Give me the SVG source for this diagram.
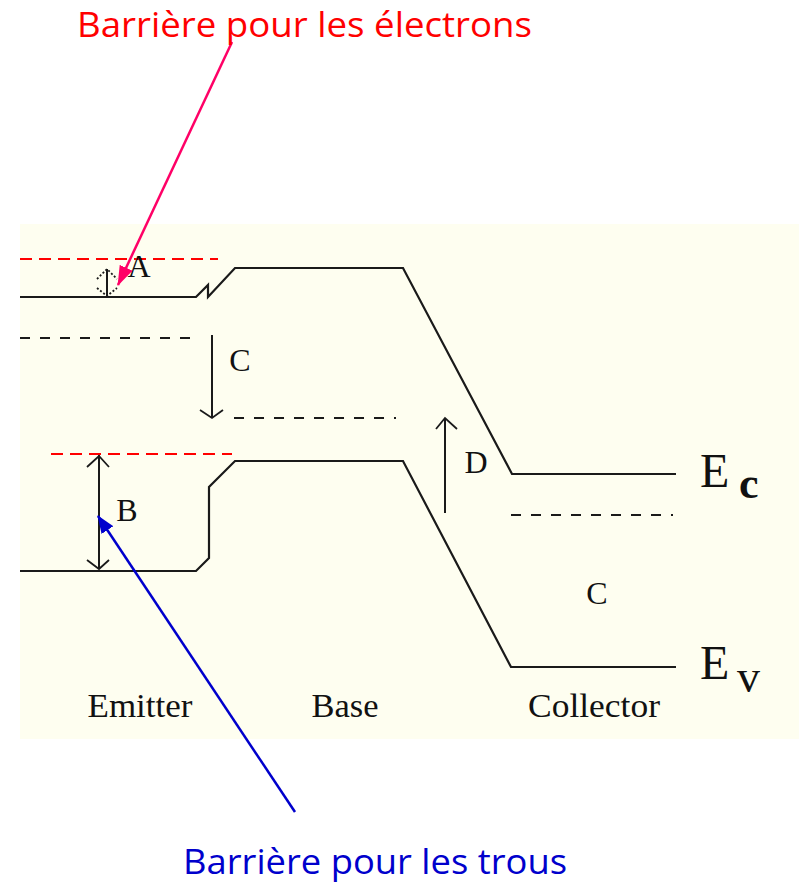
<svg xmlns="http://www.w3.org/2000/svg" width="799" height="883" viewBox="0 0 799 883">
<style>
.band{fill:none;stroke:#1a1a1a;stroke-width:2.2;stroke-linejoin:miter}
.fermi{fill:none;stroke:#1a1a1a;stroke-width:2.2;stroke-dasharray:10 10}
.red{fill:none;stroke:#ff0000;stroke-width:2;stroke-dasharray:12 7}
.arr{fill:none;stroke:#1a1a1a;stroke-width:2}
.chev{fill:none;stroke:#1a1a1a;stroke-width:1.8}
.lbl{font-family:"Liberation Serif","Times New Roman",serif;font-size:32px;fill:#111}
.reg{font-family:"Liberation Serif","Times New Roman",serif;font-size:34px;fill:#111}
.cap{font-family:"Open Sans","Noto Sans","Liberation Sans",sans-serif;font-size:34px}
</style>
<defs>
<marker id="hpink" markerWidth="20" markerHeight="14" refX="19" refY="7" orient="auto" markerUnits="userSpaceOnUse" viewBox="0 0 20 14"><path d="M0,0 L20,7 L0,14 Z" fill="#ff0066"/></marker>
<marker id="hblue" markerWidth="18" markerHeight="14" refX="17" refY="7" orient="auto" markerUnits="userSpaceOnUse" viewBox="0 0 18 14"><path d="M0,0 L18,7 L0,14 Z" fill="#0000cc"/></marker>
</defs>
<rect width="799" height="883" fill="#ffffff"/>
<rect x="20" y="224" width="779" height="515" fill="#fefef0"/>

<g id="conduction-band">
<path class="band" d="M20,297 L196,297 L208,285 L208,297 L235,268 L403,268 L512,474 L676,474"/>
</g>
<g id="valence-band">
<path class="band" d="M20,571 L196,571 L209,558 L209,487 L235,461 L403,461 L511,667 L676,667"/>
</g>
<g id="fermi-levels">
<path class="fermi" d="M20,338 L196,338" stroke-dasharray="9 7"/>
<path class="fermi" d="M234,418 L396,418"/>
<path class="fermi" d="M511,515 L673,515" stroke-dasharray="10 11"/>
</g>
<g id="barrier-levels">
<path class="red" d="M20,259 L218,259"/>
<path class="red" d="M51,454 L232,454"/>
</g>

<g id="arrow-A">
<path class="arr" d="M107,269 L107,296" stroke-width="2.5"/>
<path class="chev" stroke-dasharray="2 2" d="M97,279 L107,269 L117,279 M97,288 L107,296 L117,288"/>
<text class="lbl" x="139" y="277" text-anchor="middle" font-size="29">A</text>
</g>
<g id="arrow-B">
<path class="arr" d="M99,455 L99,569"/>
<path class="chev" d="M87,467 L99,456 L109,467 M87,560 L99,569 L109,560"/>
<text class="lbl" x="127" y="521" text-anchor="middle">B</text>
</g>
<g id="arrow-C">
<path class="arr" d="M212,335 L212,418"/>
<path class="chev" d="M200,410 L212,418 L223,410"/>
<text class="lbl" x="240" y="371" text-anchor="middle">C</text>
</g>
<g id="arrow-D">
<path class="arr" d="M445,513 L445,419"/>
<path class="chev" d="M436,429 L445,418 L457,429"/>
<text class="lbl" x="476" y="473" text-anchor="middle">D</text>
</g>
<g id="label-C-collector">
<text class="lbl" x="597" y="604" text-anchor="middle">C</text>
</g>

<g id="region-labels">
<text class="reg" x="140" y="717" text-anchor="middle" textLength="105" lengthAdjust="spacingAndGlyphs">Emitter</text>
<text class="reg" x="345" y="717" text-anchor="middle" textLength="67" lengthAdjust="spacingAndGlyphs">Base</text>
<text class="reg" x="594" y="717" text-anchor="middle" textLength="132" lengthAdjust="spacingAndGlyphs">Collector</text>
</g>
<g id="label-Ec">
<text font-family="Liberation Serif,serif" font-size="48" fill="#111" x="700" y="487">E</text>
<text font-family="Liberation Serif,serif" font-size="44" font-weight="bold" fill="#111" x="739" y="498">c</text>
</g>
<g id="label-Ev">
<text font-family="Liberation Serif,serif" font-size="48" fill="#111" x="700" y="679">E</text>
<text font-family="Liberation Serif,serif" font-size="46" fill="#111" x="737" y="692">v</text>
</g>

<g id="connectors">
<line x1="232" y1="42" x2="118" y2="285" stroke="#ff0066" stroke-width="2.5" marker-end="url(#hpink)"/>
<line x1="295" y1="812" x2="98" y2="516" stroke="#0000cc" stroke-width="2.5" marker-end="url(#hblue)"/>
</g>

<g id="caption-electrons">
<text class="cap" x="77" y="37" fill="#ff0000" textLength="455" lengthAdjust="spacingAndGlyphs">Barrière pour les électrons</text>
</g>
<g id="caption-holes">
<text class="cap" x="183" y="874" fill="#0000cc" textLength="384" lengthAdjust="spacingAndGlyphs">Barrière pour les trous</text>
</g>
</svg>
